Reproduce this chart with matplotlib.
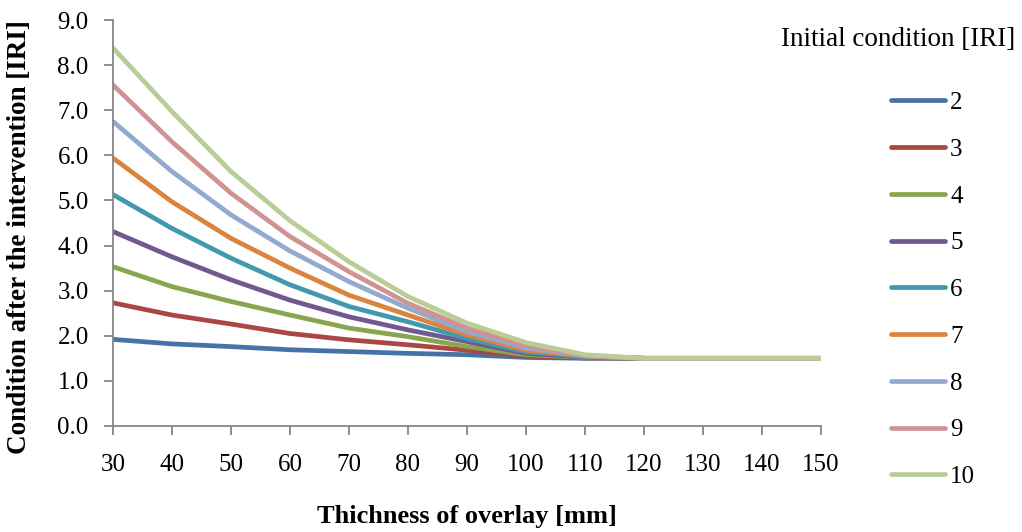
import matplotlib
matplotlib.use("Agg")
import matplotlib.pyplot as plt

thickness = [30, 40, 50, 60, 70, 80, 90, 100, 110, 120, 130, 140, 150]
initial_conditions = ["2", "3", "4", "5", "6", "7", "8", "9", "10"]

iri_2 = [1.92, 1.82, 1.76, 1.69, 1.65, 1.61, 1.58, 1.52, 1.50, 1.50, 1.50, 1.50, 1.50]
iri_3 = [2.73, 2.46, 2.26, 2.05, 1.91, 1.80, 1.68, 1.55, 1.51, 1.50, 1.50, 1.50, 1.50]
iri_4 = [3.53, 3.09, 2.76, 2.46, 2.17, 1.98, 1.76, 1.58, 1.52, 1.50, 1.50, 1.50, 1.50]
iri_5 = [4.31, 3.75, 3.24, 2.79, 2.42, 2.13, 1.87, 1.61, 1.53, 1.50, 1.50, 1.50, 1.50]
iri_6 = [5.13, 4.38, 3.72, 3.13, 2.65, 2.31, 1.94, 1.64, 1.54, 1.50, 1.50, 1.50, 1.50]
iri_7 = [5.94, 4.97, 4.16, 3.50, 2.90, 2.46, 2.02, 1.68, 1.55, 1.50, 1.50, 1.50, 1.50]
iri_8 = [6.75, 5.64, 4.68, 3.88, 3.20, 2.61, 2.09, 1.73, 1.55, 1.50, 1.50, 1.50, 1.50]
iri_9 = [7.56, 6.30, 5.16, 4.20, 3.42, 2.72, 2.17, 1.78, 1.56, 1.50, 1.50, 1.50, 1.50]
iri_10 = [8.38, 6.97, 5.64, 4.55, 3.64, 2.87, 2.28, 1.85, 1.58, 1.50, 1.50, 1.50, 1.50]

series = [iri_2, iri_3, iri_4, iri_5, iri_6, iri_7, iri_8, iri_9, iri_10]
colors = ["#4572A7", "#AA4643", "#89A54E", "#71588F", "#4198AF",
          "#DB843D", "#93A9CF", "#D19392", "#B9CD96"]

plt.rcParams['font.family'] = ['Liberation Serif', 'DejaVu Serif']

W, H = 1022, 532
fig = plt.figure(figsize=(W/100, H/100), dpi=100)
ax = fig.add_axes([113/W, (H-426)/H, (821-113)/W, (426-20)/H])

for vals, lab, c in zip(series, initial_conditions, colors):
    ax.plot(thickness, vals, color=c, lw=3.4, label=lab, solid_capstyle='round')

ax.set_xlim(30, 150)
ax.set_ylim(0, 9)
ax.set_xticks(thickness)
ax.set_yticks([i for i in range(10)])
ax.set_yticklabels([f"{i:.1f}" for i in range(10)])
for s in ["top", "right"]:
    ax.spines[s].set_visible(False)
for s in ["left", "bottom"]:
    ax.spines[s].set_color("#868686")
    ax.spines[s].set_linewidth(1.3)
ax.tick_params(axis='both', colors="#868686", labelcolor="black", labelsize=18,
               length=6.5, width=1.3, direction='out')
ax.tick_params(axis='x', pad=14)
ax.tick_params(axis='y', pad=11)

fig.text(467/W, 1-516/H, "Thichness of overlay [mm]", fontsize=19, fontweight='bold',
         ha='center', va='center')
fig.text(20/W, 1-237/H, "Condition after the intervention [IRI]", fontsize=19.5,
         fontweight='bold', ha='center', va='center', rotation=90)

fig.text(898/W, 1-40/H, "Initial condition [IRI]", fontsize=19.5, ha='center', va='center')
leg = fig.legend(loc='upper left', bbox_to_anchor=(891/W, 1-91.5/H), frameon=False,
                 fontsize=18, handlelength=2.16, handletextpad=0.2, labelspacing=0.97,
                 borderaxespad=0, borderpad=0)

fig.savefig("out.png", dpi=100)
